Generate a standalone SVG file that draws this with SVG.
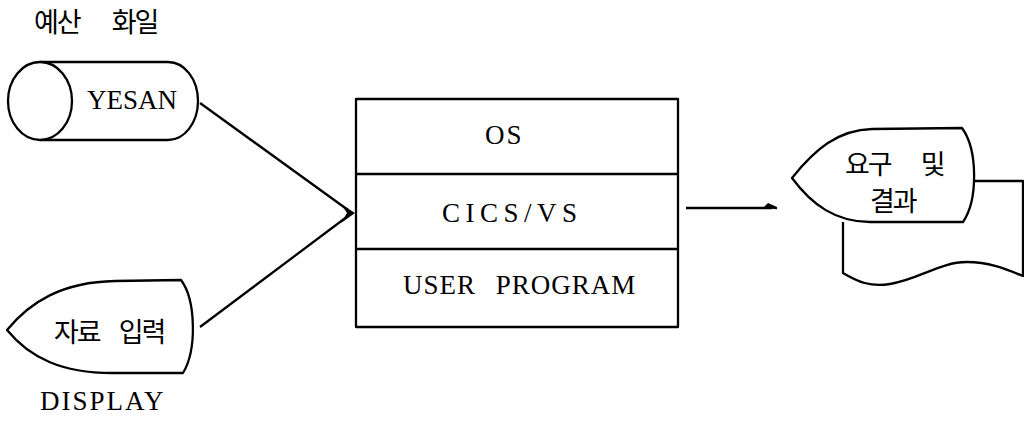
<svg xmlns="http://www.w3.org/2000/svg" width="1024" height="424" viewBox="0 0 1024 424">
<style>
.s{fill:#fff;stroke:#000;stroke-width:2.3;stroke-linejoin:round}
.l{fill:none;stroke:#000;stroke-width:2.3}
.e{font-family:"Liberation Serif","DejaVu Serif",serif;font-size:27px;fill:#000}
.k{font-family:"Noto Sans CJK KR","Noto Sans",sans-serif;fill:#000;font-size:27px;letter-spacing:-2px}
</style>
<rect width="1024" height="424" fill="#fff"/>
<g id="yesan">
<text class="k" x="34" y="32" word-spacing="28">예산 화일</text>
<path class="s" d="M40,62 L168,62 A30,39 0 0 1 168,140 L40,140 Z"/>
<ellipse class="s" cx="40" cy="101" rx="32" ry="39"/>
<text class="e" x="87" y="109">YESAN</text>
</g>
<g id="display">
<path class="s" d="M7,330 C30,302 62,282 115,281 L181,280 C196,300 197,350 183,373 L112,373 C62,373 30,358 7,330 Z"/>
<text class="k" x="54" y="342" word-spacing="15">자료 입력</text>
<text class="e" x="40" y="410" letter-spacing="2">DISPLAY</text>
</g>
<g id="system">
<rect class="s" x="356" y="99" width="322" height="228"/>
<line class="l" x1="356" y1="174" x2="678" y2="174"/>
<line class="l" x1="356" y1="249" x2="678" y2="249"/>
<text class="e" x="485" y="144" letter-spacing="2">OS</text>
<text class="e" x="442" y="222" letter-spacing="5.5">CICS/VS</text>
<text class="e" x="403" y="294" letter-spacing="1" word-spacing="12">USER PROGRAM</text>
</g>
<g id="output">
<path class="s" d="M843,222 L843,273 C858,282 870,287 890,284 C920,279 940,262 967,262 C990,262 1008,270 1023,276 L1023,181 L975,181"/>
<path class="s" d="M792,178 C815,149 838,130 872,129 L962,128 C978,150 978,200 963,222 L870,222 C836,222 812,205 792,178 Z"/>
<text class="k" x="845" y="174" font-size="25" letter-spacing="-1" word-spacing="26">요구 및</text>
<text class="k" x="870" y="211" font-size="26">결과</text>
</g>
<g id="connectors">
<line class="l" x1="200" y1="103" x2="348" y2="210"/>
<line class="l" x1="200" y1="327" x2="348" y2="216"/>
<polygon points="355,213 341,204 347,213 341,223" fill="#000"/>
<line class="l" x1="686" y1="208" x2="772" y2="208"/>
<polygon points="763,208 768,203 777,207 777,209.2" fill="#000"/>
</g>
</svg>
